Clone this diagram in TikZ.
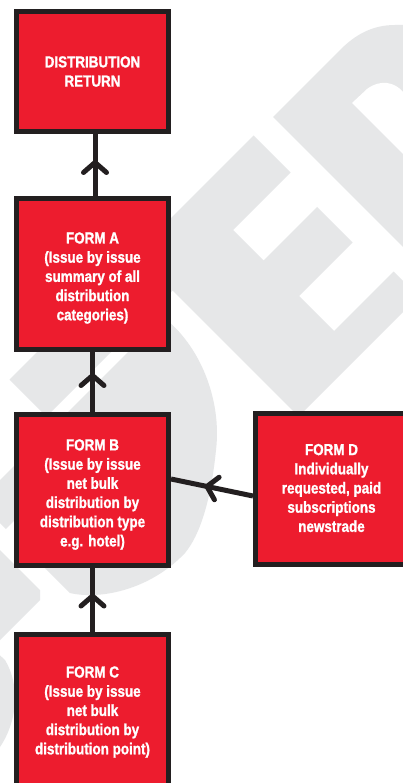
\documentclass[tikz,border=0pt]{standalone}
\usepackage{fontspec}
\newfontfamily\boxfont{Liberation Sans}[FakeStretch=0.84, FakeBold=1.2]
\usetikzlibrary{decorations.markings}
\definecolor{formred}{HTML}{ED1C2E}
\definecolor{lineblk}{HTML}{231F20}
\definecolor{wmgray}{HTML}{E6E7E8}
\tikzset{
  formbox/.style={draw=lineblk, fill=formred, line width=5pt,
    minimum width=152pt, minimum height=151pt, inner sep=0pt},
  boxtext/.style={align=center, text=white, inner sep=0pt,
    font=\boxfont\bfseries\fontsize{16}{19.2}\selectfont},
  link/.style={draw=lineblk, line width=5pt},
  chev/.style={postaction={decorate}, decoration={markings,
    mark=at position #1 with {\draw[lineblk, line width=5pt, line cap=round, line join=round]
      (-10pt,11.5pt) -- (0pt,0pt) -- (-10pt,-11.5pt);}}},
  wm/.style={fill=wmgray, draw=none},
}
\begin{document}
\begin{tikzpicture}[x=1pt, y=-1pt]
\useasboundingbox (0,0) rectangle (403,783);
\clip (0,0) rectangle (403,783);
\fill[white] (0,0) rectangle (403,783);
% watermark: E shape (u,v frame)
\begin{scope}[x={(0.5pt,-0.5pt)}, y={(0.5pt,0.5pt)}]
  \fill[wm] (389,-370) -- (389,118) -- (463,118) -- (463,3) -- (524,3) -- (524,110)
    -- (595,110) -- (595,3) -- (665,3) -- (665,122) -- (715,122) -- (715,-118)
    -- (463,-118) -- (463,-370) -- cycle;
\end{scope}
% watermark: D shape top right
\fill[wm] (273,117) -- (340,50) .. controls (355,35) and (372,25) .. (395,25) -- (403,25) -- (403,247) -- cycle;
\fill[white] (352,103) -- (367,89) .. controls (380,79) and (395,82) .. (403,92) -- (403,154) -- cycle;
% watermark: bowl lower left
\fill[wm] (-20,500) -- (163,317) .. controls (200,345) and (222,400) .. (216,450)
  .. controls (211,500) and (200,535) .. (185,553)
  .. controls (150,590) and (100,600) .. (70,593) -- (-20,503) -- cycle;
\fill[white] (-20,555) -- (110,425) -- (150,425) .. controls (168,440) and (168,500) .. (140,545)
  -- (80,560) -- (-20,575) -- cycle;
\fill[wm] (-20,530) -- (40,590) -- (40,600) -- (-20,660) -- cycle;
\fill[wm] (-20,637) -- (5,660) .. controls (20,685) and (18,720) .. (0,747) -- (-20,747) -- cycle;
% boxes
\node[formbox, minimum height=120pt] (dr) at (92.5,71.5) {};
\node[formbox] (fa) at (92.5,274) {};
\node[formbox] (fb) at (92.5,490) {};
\node[formbox, minimum height=155pt] (fc) at (92.5,712) {};
\node[formbox] (fd) at (331.5,489) {};
% texts
\node[boxtext] (drt) at (92.5,71.5) {DISTRIBUTION\\RETURN};
\node[boxtext] (fat) at (92.5,278) {FORM A\\(Issue by issue\\summary of all\\distribution\\categories)};
\node[boxtext] (fbt) at (92.5,494.5) {FORM B\\(Issue by issue\\net bulk\\distribution by\\distribution type\\e.g. hotel)};
\node[boxtext] (fct) at (92.5,712) {FORM C\\(Issue by issue\\net bulk\\distribution by\\distribution point)};
\node[boxtext] (fdt) at (331.5,488) {FORM D\\Individually\\requested, paid\\subscriptions\\newstrade};
% connectors
\draw[link, chev=33.5pt] ([xshift=2.5pt]fa.north) -- ([xshift=2.5pt]dr.south);
\draw[link, chev=36.5pt] (fb.north) -- (fa.south);
\draw[link, chev=36pt] (fc.north) -- (fb.south);
\draw[link, chev=47pt] ([yshift=-7pt]fd.west) -- ([yshift=11pt]fb.east);
\end{tikzpicture}
\end{document}
